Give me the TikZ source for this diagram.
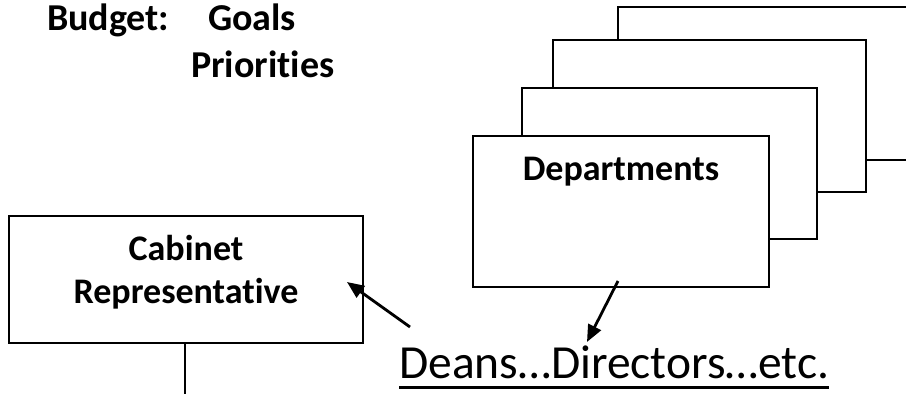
\documentclass[tikz,border=0pt]{standalone}
\usepackage{fontspec}
\setmainfont{Carlito}[Ligatures=NoCommon]
\usetikzlibrary{arrows.meta}
\newcommand\ulx[1]{\setbox0=\hbox{#1}\rlap{\rule[-0.24em]{\wd0}{0.075em}}\box0}
\begin{document}
\tikzset{
 panel/.style={draw, line width=2.8pt, fill=white, rectangle, inner sep=0pt, outer sep=0pt},
 btext/.style={font=\fontsize{36}{43}\selectfont\bfseries, inner sep=0pt, anchor=base},
 ttext/.style={font=\fontsize{38}{46}\selectfont\bfseries, inner sep=0pt, anchor=base west},
 conn/.style={line width=2.8pt},
 arr/.style={conn, -{Triangle[length=17pt,width=14pt]}}
}
\begin{tikzpicture}[x=1pt,y=-1pt]
\useasboundingbox (0,0) rectangle (906,394);
\clip (0,0) rectangle (906,394);
% stacked department boxes
\node[panel, minimum width=342pt, minimum height=153pt, anchor=north west] (p4) at (618,7) {};
\node[panel, minimum width=313pt, minimum height=152pt, anchor=north west] (p3) at (553,40) {};
\node[panel, minimum width=295pt, minimum height=151pt, anchor=north west] (p2) at (522,88) {};
\node[panel, minimum width=296pt, minimum height=151pt, anchor=north west] (front) at (473,136) {};
\node[btext] (dept) at (621,180) {Departments};
% cabinet box
\node[panel, minimum width=354pt, minimum height=127pt, anchor=north west] (cab) at (9,216) {};
\node[btext] (cab1) at (186,260) {Cabinet};
\node[btext] (cab2) at (186,303) {Representative};
% budget text
\node[ttext] (budget) at (47,30) {Budget:};
\node[ttext] (goals) at (208,30) {Goals};
\node[ttext] (prio) at (191,77) {Priorities};
% deans text
\node[font=\fontsize{47.5}{56}\selectfont, inner sep=0pt, anchor=base west] (deans) at (399,378) {\ulx{Deans…Directors…etc.}};
% connectors
\coordinate (cabtip) at (347,282);
\coordinate (deanstail) at (410,327);
\coordinate (depttail) at (618,281);
\coordinate (depttip) at (587,342);
\coordinate (cabdown) at (185,400);
\draw[arr] (deanstail) -- (cabtip);
\draw[arr] (depttail) -- (depttip);
\draw[conn] (cab.south -| cabdown) -- (cabdown);
\end{tikzpicture}
\end{document}
